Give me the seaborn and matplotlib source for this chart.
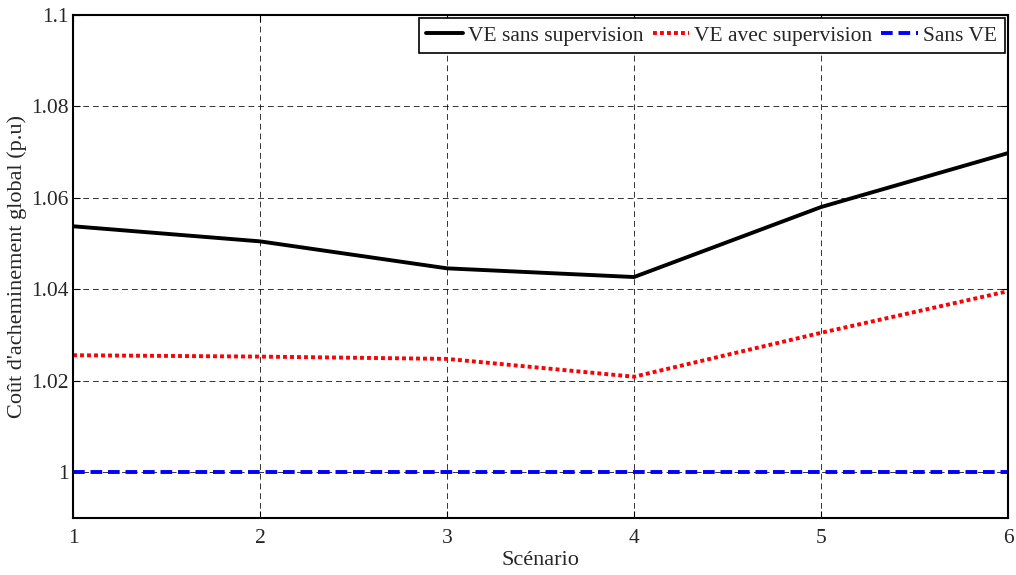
import matplotlib
matplotlib.use("Agg")
import matplotlib.pyplot as plt
import seaborn as sns
import pandas as pd

scenarios = [1, 2, 3, 4, 5, 6]
ve_sans_supervision = [1.0538, 1.0505, 1.0446, 1.0427, 1.0580, 1.0698]
ve_avec_supervision = [1.0256, 1.0253, 1.0248, 1.0209, 1.0305, 1.0396]
sans_ve = [1.0, 1.0, 1.0, 1.0, 1.0, 1.0]

series_names = ["VE sans supervision", "VE avec supervision", "Sans VE"]
y_ticks = [1.0, 1.02, 1.04, 1.06, 1.08, 1.1]
y_tick_labels = ["1", "1.02", "1.04", "1.06", "1.08", "1.1"]

sns.set_theme(style="white")
plt.rcParams["font.family"] = ["Liberation Serif", "DejaVu Serif"]

df = pd.DataFrame({
    "Scénario": scenarios * 3,
    "Coût": ve_sans_supervision + ve_avec_supervision + sans_ve,
    "Série": [series_names[0]] * 6 + [series_names[1]] * 6 + [series_names[2]] * 6,
})

fig = plt.figure(figsize=(10.16, 5.75), dpi=100)
ax = fig.add_axes([0.0719, 0.0991, 0.9921 - 0.0719, 0.9739 - 0.0991])

styles = {
    series_names[0]: dict(color="black", linestyle="-", linewidth=2.8),
    series_names[1]: dict(color="#ff0000", linestyle=(0, (1, 0.8)), linewidth=2.8),
    series_names[2]: dict(color="#0000ff", linestyle=(0, (3.0, 1.5)), linewidth=2.8),
}
for name in series_names:
    sub = df[df["Série"] == name]
    sns.lineplot(data=sub, x="Scénario", y="Coût", ax=ax, label=name,
                 **styles[name])

ax.set_xlim(1, 6)
ax.set_ylim(0.99, 1.1)
ax.set_xticks(scenarios)
ax.set_xticklabels([str(s) for s in scenarios])
ax.set_yticks(y_ticks)
ax.set_yticklabels(y_tick_labels)

ax.grid(True, color="black", linestyle=(0, (6, 4)), linewidth=0.7, alpha=0.8)
ax.set_axisbelow(True)
for sp in ax.spines.values():
    sp.set_color("black")
    sp.set_linewidth(1.5)
    sp.set_visible(True)

ax.tick_params(axis="both", which="major", direction="in", length=5,
               width=0.8, color="black", labelsize=15.5,
               top=True, right=True, bottom=True, left=True)
ax.tick_params(axis="x", pad=8)
ax.tick_params(axis="y", pad=3)

ax.set_xlabel("Scénario", fontsize=16)
ax.xaxis.set_label_coords(0.5, -0.066)
ax.set_ylabel("Coût d'acheminement global (p.u)", fontsize=16)
ax.yaxis.set_label_coords(-0.049, 0.5)

leg = ax.legend(loc="upper right", ncol=3, fontsize=15.5, frameon=True,
                fancybox=False, edgecolor="black", framealpha=1,
                borderaxespad=0.15, handlelength=1.7, handletextpad=0.25,
                columnspacing=0.4, borderpad=0.35)
leg.get_frame().set_linewidth(1.2)

fig.savefig("out.png", dpi=100)
